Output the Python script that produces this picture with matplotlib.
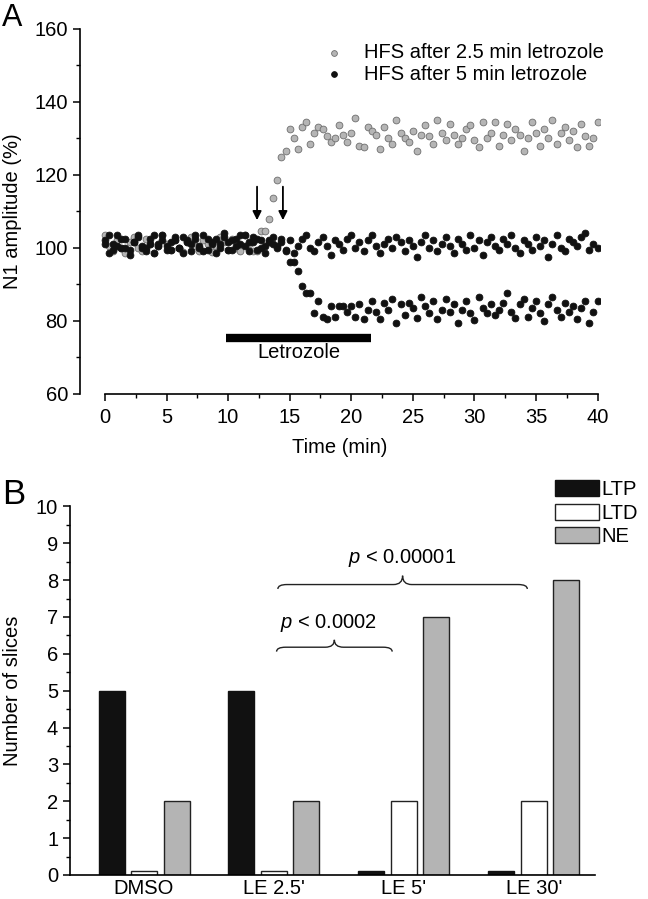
import numpy as np
import matplotlib.pyplot as plt
from matplotlib.path import Path
from matplotlib.patches import PathPatch, Patch
from matplotlib.ticker import MultipleLocator

FS = 14.5

plt.rcParams.update({
    "font.family": ["Liberation Sans", "DejaVu Sans"],
    "mathtext.fontset": "custom",
    "mathtext.it": "Liberation Sans:italic",
    "mathtext.rm": "Liberation Sans",
    "font.size": FS,
    "axes.linewidth": 1.2,
})

# ---- panel A data: N1 amplitude (%) sampled every 20 s from 0 to 40 min
hfs_25 = [103.5, 100.5, 99.0, 102.0, 100.0, 98.5, 101.5, 103.0, 100.0, 99.0,
          102.5, 101.0, 98.5, 100.5, 103.5, 101.0, 99.5, 102.0, 100.0, 98.8,
          101.5, 103.0, 100.5, 99.0, 102.0, 101.0, 98.8, 100.5, 103.0, 101.5,
          99.5, 102.5, 100.0, 99.0, 103.5, 101.0, 99.0, 99.0,
          104.5, 104.5, 108.0, 113.5, 118.5, 125.0, 126.5, 132.5,
          130.0, 127.0, 133.0, 134.5, 128.5, 131.5, 133.0, 132.5, 130.5, 129.0,
          130.0, 133.5, 131.0, 129.0, 131.5, 135.5, 128.0, 127.5, 133.0, 132.0,
          131.0, 127.0, 133.0, 130.0, 128.5, 135.0, 131.5, 130.0, 129.0, 132.0,
          126.5, 131.0, 133.5, 130.5, 128.5, 135.0, 131.5, 129.5, 134.0, 131.0,
          128.5, 130.0, 132.5, 133.5, 129.5, 127.5, 134.5, 130.0, 131.5, 134.5,
          128.0, 131.0, 134.0, 129.5, 132.5, 131.0, 126.5, 130.0, 134.5, 131.5,
          128.0, 132.5, 130.0, 135.0, 128.5, 131.5, 133.0, 129.5, 132.0, 127.5,
          134.0, 130.5, 128.0, 130.0, 134.5]

hfs_5_ltd = [102.0, 98.5, 101.0, 103.5, 100.0, 102.5, 99.5, 101.5, 103.0, 100.5,
             100.0, 102.5, 98.5, 101.0, 103.5, 100.5, 99.5, 102.0, 100.0, 103.0,
             101.5, 99.0, 102.5, 100.5, 103.5, 99.5, 101.0, 102.5, 100.0, 104.0,
             101.5, 99.5, 102.5, 103.5, 100.5, 101.5, 103.0, 99.5, 102.0, 100.5,
             101.5, 103.0, 100.0, 101.5, 99.0,
             96.0, 96.0, 93.5, 89.5, 87.5, 87.5, 82.0, 85.5, 81.0, 80.5,
             84.0, 81.0, 84.0, 84.0, 82.5, 84.0, 81.0, 84.5, 80.5, 83.0,
             85.5, 82.5, 80.5, 85.0, 83.0, 86.0, 79.5, 84.5, 81.5, 85.0,
             83.5, 80.8, 86.5, 84.0, 82.0, 85.5, 80.5, 83.0, 86.0, 82.5,
             84.5, 79.5, 83.0, 85.5, 82.0, 80.3, 86.5, 83.5, 82.0, 84.5,
             81.5, 83.0, 85.0, 87.5, 82.5, 80.8, 84.5, 86.0, 81.0, 83.5,
             85.5, 82.0, 80.0, 84.5, 86.5, 83.0, 81.0, 85.0, 82.5, 84.0,
             80.5, 83.5, 85.5, 79.5, 82.5, 85.5]

hfs_5_ne = [101.0, 103.5, 99.5, 100.5, 102.5, 100.0, 98.0, 101.5, 103.5, 100.0,
            99.0, 101.0, 103.5, 100.5, 102.0, 99.5, 101.5, 103.0, 100.0, 98.5,
            102.0, 101.0, 103.5, 100.0, 99.0, 102.5, 101.5, 98.5, 101.0, 103.0,
            99.5, 102.0, 100.5, 101.0, 103.5, 99.0, 101.5, 102.5, 100.0, 98.5,
            102.0, 101.0, 100.5, 102.5, 99.5, 102.0, 98.5, 100.5, 102.5, 103.5,
            100.0, 99.0, 101.5, 103.0, 100.5, 98.0, 102.0, 101.0, 99.5, 102.5,
            103.5, 100.0, 101.5, 99.0, 102.0, 103.5, 100.5, 98.5, 101.0, 102.5,
            100.0, 103.0, 101.5, 99.0, 102.0, 100.5, 97.5, 101.5, 103.5, 100.0,
            102.0, 99.0, 101.0, 103.0, 100.5, 98.5, 102.5, 101.0, 99.5, 103.5,
            100.0, 102.0, 98.0, 101.5, 103.0, 100.5, 99.5, 102.5, 101.0, 103.5,
            100.0, 98.5, 102.0, 101.0, 99.5, 103.0, 100.5, 102.0, 97.5, 101.0,
            103.5, 100.0, 99.0, 102.5, 101.5, 100.5, 103.0, 104.0, 99.5, 101.0,
            100.0]

hfs_times = [12.35, 14.45]          # min, arrows
letrozole = [9.86, 21.6]            # min, application window

# ---- panel B data
conditions = ["DMSO", "LE 2.5'", "LE 5'", "LE 30'"]
ltp = [5, 5, 0, 0]
ltd = [0, 0, 2, 2]
ne = [2, 2, 7, 8]

fig = plt.figure(figsize=(6.48, 8.99), dpi=100)

# ================= Panel A
ax = fig.add_axes([0.123, 0.562, 0.803, 0.406])
for vals, fc, ec, lab in [(hfs_25, "#b5b5b5", "#6e6e6e", "HFS after 2.5 min letrozole"),
                          (hfs_5_ltd, "#111111", "#111111", "HFS after 5 min letrozole"),
                          (hfs_5_ne, "#111111", "#111111", None)]:
    t = np.linspace(0, 40, len(vals))
    ax.scatter(t, vals, s=24, facecolor=fc, edgecolor=ec, linewidth=0.6, label=lab, zorder=3)

for ht in hfs_times:
    ax.annotate("", xy=(ht, 106.8), xytext=(ht, 117.5),
                arrowprops=dict(arrowstyle="-|>", color="k", lw=1.3, mutation_scale=13))

ax.plot(letrozole, [75.3, 75.3], color="k", lw=6, solid_capstyle="butt")
ax.text(np.mean(letrozole), 71.2, "Letrozole", ha="center", va="center", fontsize=FS)

ax.set_xlim(-2.05, 40.2)
ax.set_ylim(60, 160)
ax.spines["top"].set_visible(False)
ax.spines["right"].set_visible(False)
ax.spines["bottom"].set_bounds(0, 40)
ax.xaxis.set_major_locator(MultipleLocator(5))
ax.xaxis.set_minor_locator(MultipleLocator(2.5))
ax.yaxis.set_major_locator(MultipleLocator(20))
ax.yaxis.set_minor_locator(MultipleLocator(10))
ax.tick_params(which="major", length=5, width=1.1, labelsize=FS)
ax.tick_params(which="minor", length=3, width=1.0)
ax.tick_params(axis="x", pad=5)
ax.set_xlabel("Time (min)", fontsize=FS, labelpad=8)
ax.set_ylabel("N1 amplitude (%)", fontsize=FS, labelpad=9)
ax.legend(loc="upper left", bbox_to_anchor=(0.415, 1.01), frameon=False, fontsize=FS,
          handletextpad=0.5, labelspacing=0.12, markerscale=0.85)
fig.text(0.003, 0.997, "A", fontsize=22, ha="left", va="top")

# ================= Panel B
bx = fig.add_axes([0.108, 0.0267, 0.81, 0.410])
x = np.arange(len(conditions))
w = 0.2
off = 0.25
stub = 0.1
draw = lambda v: [vv if vv > 0 else stub for vv in v]
bx.bar(x - off, draw(ltp), w, color="#111111", edgecolor="#111111", lw=1.0)
bx.bar(x, draw(ltd), w, color="white", edgecolor="#222222", lw=1.0)
bx.bar(x + off, draw(ne), w, color="#b4b4b4", edgecolor="#222222", lw=1.0)

bx.set_xlim(-0.57, 3.47)
bx.set_ylim(0, 10)
bx.set_xticks(x)
bx.set_xticklabels(conditions)
bx.tick_params(axis="x", length=0, pad=3, labelsize=FS)
bx.yaxis.set_major_locator(MultipleLocator(1))
bx.yaxis.set_minor_locator(MultipleLocator(0.5))
bx.tick_params(axis="y", which="major", length=5, width=1.1, labelsize=FS)
bx.tick_params(axis="y", which="minor", length=3, width=1.0)
bx.spines["top"].set_visible(False)
bx.spines["right"].set_visible(False)
bx.set_ylabel("Number of slices", fontsize=FS, labelpad=10)


def brace(axis, x0, x1, y, d_end, d_peak, hw=0.07):
    xm = (x0 + x1) / 2
    verts = [(x0, y - d_end), (x0, y), (x0 + hw, y), (xm - hw, y),
             (xm, y), (xm, y + d_peak), (xm, y), (xm + hw, y),
             (x1 - hw, y), (x1, y), (x1, y - d_end)]
    codes = [Path.MOVETO, Path.CURVE3, Path.CURVE3, Path.LINETO,
             Path.CURVE3, Path.CURVE3, Path.CURVE3, Path.CURVE3,
             Path.LINETO, Path.CURVE3, Path.CURVE3]
    axis.add_patch(PathPatch(Path(verts, codes), fill=False, lw=1.0, color="#222222"))


brace(bx, 1.02, 1.91, 6.18, 0.12, 0.2)
bx.text(1.42, 6.85, r"$\mathit{p}$ < 0.0002", ha="center", va="center", fontsize=FS)
brace(bx, 1.03, 2.95, 7.88, 0.12, 0.24)
bx.text(1.99, 8.6, r"$\mathit{p}$ < 0.00001", ha="center", va="center", fontsize=FS)

handles = [Patch(facecolor="#111111", edgecolor="#111111", label="LTP"),
           Patch(facecolor="white", edgecolor="#222222", label="LTD"),
           Patch(facecolor="#b4b4b4", edgecolor="#222222", label="NE")]
fig.legend(handles=handles, loc="upper left", bbox_to_anchor=(0.857, 0.466), frameon=False,
           fontsize=FS, handlelength=2.15, handleheight=0.85, handletextpad=0.15,
           labelspacing=0.22, borderpad=0.0, borderaxespad=0.0)
fig.text(0.003, 0.468, "B", fontsize=25, ha="left", va="top")

fig.savefig("out.png", dpi=100)
